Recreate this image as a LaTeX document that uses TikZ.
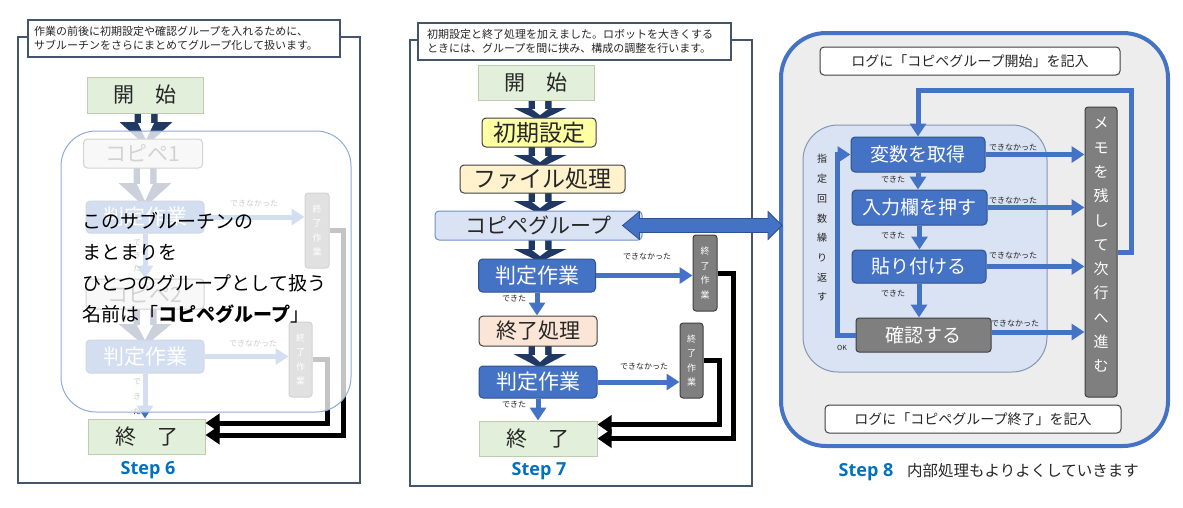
\documentclass[tikz,border=0pt]{standalone}
\usepackage{fontspec}
\setmainfont{Noto Sans CJK JP}
\newfontfamily\stepfont{Open Sans}
\usetikzlibrary{calc,arrows.meta}

\definecolor{frameC}{HTML}{44546A}
\definecolor{inkC}{HTML}{262626}
\definecolor{navyC}{HTML}{1F3864}
\definecolor{blueC}{HTML}{4472C4}
\definecolor{blueD}{HTML}{2F528F}
\definecolor{grayF}{HTML}{7F7F7F}
\definecolor{grayD}{HTML}{404040}
\definecolor{startF}{HTML}{E2EFDA}
\definecolor{startD}{HTML}{BFCCB0}
\definecolor{initF}{HTML}{FFFFA3}
\definecolor{fileF}{HTML}{FFF2CC}
\definecolor{procF}{HTML}{FBE5D6}
\definecolor{copyF}{HTML}{DAE3F3}
\definecolor{copyD}{HTML}{6F8FC7}
\definecolor{groupD}{HTML}{8FAADC}
\definecolor{panelF}{HTML}{EDEDED}
\definecolor{innerD}{HTML}{8497B0}
\definecolor{stepC}{HTML}{0070C0}

\newcommand\jpbox{\fontsize{21}{24}\selectfont}
\newcommand\jpmid{\fontsize{19}{22}\selectfont}
\newcommand\jpcap{\fontsize{11}{14.5}\selectfont}
\newcommand\jplog{\fontsize{14}{16}\selectfont}
\newcommand\jptiny{\fontsize{8}{9}\selectfont}
\newcommand\jpover{\fontsize{19}{31}\selectfont}
\newcommand\steplbl{\stepfont\fontsize{18}{20}\selectfont\bfseries}
\def\hollowarrow[#1](#2)(#3:#4:#5){%
	\fill[#1] (#2-11.5,#3) -- (#2+11.5,#3) -- (#2+11.5,#4) -- (#2+26.5,#4) -- (#2,#5) -- (#2-26.5,#4) -- (#2-11.5,#4) -- cycle;
	\fill[white] (#2-5,#3) -- (#2+5,#3) -- (#2+5,#4+1) -- (#2+8,#4+1) -- (#2,#5-6) -- (#2-8,#4+1) -- (#2-5,#4+1) -- cycle;}

\tikzset{
	dims/.style 2 args={minimum width=#1pt, minimum height=#2pt},
	startnode/.style={draw=startD, fill=startF, line width=1pt, inner sep=0pt, text=inkC, font=\jpbox},
	tasknode/.style={draw=grayD, rounded corners=4pt, line width=1pt, inner sep=0pt, text=inkC, font=\jpbox},
	bluenode/.style={draw=blueD, fill=blueC, rounded corners=4pt, line width=1pt, inner sep=0pt, text=white, font=\jpbox},
	endnode/.style={draw=grayD, fill=grayF, rounded corners=3pt, line width=1pt, inner sep=0pt, text=white, align=center, font=\fontsize{9}{14.5}\selectfont},
	capnode/.style={draw=frameC, fill=white, line width=1.5pt, inner sep=0pt, align=left, text=inkC, font=\jpcap},
	lognode/.style={draw=grayD, fill=white, rounded corners=4pt, line width=1pt, inner sep=0pt, text=inkC, font=\jplog},
	lbl/.style={inner sep=0pt, text=inkC, font=\jptiny},
	hollow/.style={fill=navyC},
	flow/.style={draw=blueC, line width=5pt, -{Triangle[length=13pt,width=16pt]}},
	ret/.style={draw=black, line width=5pt, -{Triangle[length=14pt,width=18pt]}},
	twin/.style={draw=blueD, fill=blueC, line width=0.8pt}
}

\begin{document}
\begin{tikzpicture}[x=1pt, y=-1pt]
		\useasboundingbox (0,0) rectangle (1183,507);
		
		%%%%% STEP 6 %%%%%
		
		\draw[frameC, line width=1.5pt] (18,37) rectangle (360,483);
		\node[capnode, dims={312}{37}, text width=300pt] (cap6) at (184,38.5) {作業の前後に初期設定や確認グループを入れるために、\\サブルーチンをさらにまとめてグループ化して扱います。};
		
		\hollowarrow[hollow](146)(108:122:146);
		\hollowarrow[hollow](145)(166:183:207);
		\hollowarrow[hollow](145)(307:324:346);
		
		\node[startnode, dims={116}{36}] (start6) at (145,95) {開　始};
		\node[tasknode, fill=black!10, text=grayD, dims={119}{29}] (copy6a) at (143,153.5) {コピペ1};
		\node[bluenode, dims={118}{32}] (judge6a) at (145,217) {判定作業};
		\node[endnode, dims={24}{75}] (end6a) at (317,230.5) {終\\了\\作\\業};
		\node[tasknode, fill=black!10, text=grayD, dims={118}{30}] (copy6b) at (145,294) {コピペ2};
		\node[bluenode, dims={118}{33}] (judge6b) at (145,356.5) {判定作業};
		\node[endnode, dims={23}{75}] (end6b) at (300.5,359.5) {終\\了\\作\\業};
		\node[startnode, dims={117}{35}] (end6) at (146.5,436.5) {終　了};
		
		\draw[flow] (judge6a.east) -- (judge6a.east -| end6a.west);
		\draw[flow] (judge6a.south) -- (judge6a.south |- copy6b.north);
		\draw[flow] (judge6b.east) -- (judge6b.east -| end6b.west);
		\draw[flow] (judge6b.south) -- (judge6b.south |- end6.north);
		\node[lbl] (no6a) at (254,203) {できなかった};
		\node[lbl] (no6b) at (253,343) {できなかった};
		\node[lbl, align=center, font=\fontsize{8}{13}\selectfont] (ok6a) at (137,256) {で\\き\\た};
		\node[lbl, align=center, font=\fontsize{8}{15}\selectfont] (ok6b) at (137,397) {で\\き\\た};
		
		\draw[ret] (end6a.east) -- ++(14,0) |- ($(end6.east)+(0,-1.5)$);
		\draw[ret] (end6b.east) -- ++(15,0) |- ($(end6.east)+(0,-13.5)$);
		
		% the sub-routine group, drawn over what it holds
		\draw[draw=groupD, fill=white, fill opacity=0.77, line width=1pt, rounded corners=35pt] (61,131) rectangle (351,412);
		\node[anchor=west, align=left, inner sep=0pt, text=black, font=\jpover] (note6) at (82,268) {このサブルーチンの\\まとまりを\\ひとつのグループとして扱う\\名前は「{\bfseries コピペグループ}」};
		
		\node[anchor=base, text=stepC, font=\steplbl] (step6) at (148,474) {Step 6};
		
		%%%%% STEP 7 %%%%%
		
		\draw[frameC, line width=1.5pt] (410,40) rectangle (752,486);
		\node[capnode, dims={313}{37}, text width=295pt] (cap7) at (574.5,41.5) {初期設定と終了処理を加えました。ロボットを大きくする\\ときには、グループを間に挟み、構成の調整を行います。};
		
		\hollowarrow[hollow](540)(98:108:121);
		\hollowarrow[hollow](540)(145:155:168);
		\hollowarrow[hollow](540)(191:201:214);
		\hollowarrow[hollow](540)(238:249:262);
		\hollowarrow[hollow](540)(344:354:368);
		
		\node[startnode, dims={116}{35}] (start7) at (536,82.5) {開　始};
		\node[tasknode, fill=initF, dims={114}{29}, font=\fontsize{23}{25}\selectfont] (init7) at (539,132.5) {初期設定};
		\node[tasknode, fill=fileF, dims={165}{28}, font=\fontsize{23}{25}\selectfont] (file7) at (542.5,179) {ファイル処理};
		\node[tasknode, draw=copyD, fill=copyF, dims={207}{29}] (copy7) at (538.5,225.5) {コピペグループ};
		\node[bluenode, dims={117}{33}] (judge7a) at (537,275.5) {判定作業};
		\node[endnode, dims={24}{76}] (end7a) at (705,273) {終\\了\\作\\業};
		\node[tasknode, fill=procF, dims={118}{30}] (proc7) at (538,331) {終了処理};
		\node[bluenode, dims={118}{32}] (judge7b) at (538,382) {判定作業};
		\node[endnode, dims={23}{75}] (end7b) at (691.5,360.5) {終\\了\\作\\業};
		\node[startnode, dims={118}{35}] (end7) at (538,438.5) {終　了};
		
		\draw[flow] (judge7a.east) -- (judge7a.east -| end7a.west);
		\draw[flow] (judge7a.south) -- (judge7a.south |- proc7.north);
		\draw[flow] (judge7b.east) -- (judge7b.east -| end7b.west);
		\draw[flow] (judge7b.south) -- (judge7b.south |- end7.north);
		\node[lbl] (no7a) at (647,256) {できなかった};
		\node[lbl] (no7b) at (644,366) {できなかった};
		\node[lbl] (ok7a) at (514,298) {できた};
		\node[lbl] (ok7b) at (514,404) {できた};
		
		\draw[ret] (end7a.east) -- ++(16,0) |- (end7.east);
		\draw[ret] (end7b.east) -- ++(16,0) |- ($(end7.east)+(0,-14)$);
		
		\node[anchor=base, text=stepC, font=\steplbl] (step7) at (539,475) {Step 7};
		
		%%%%% STEP 8 %%%%%
		
		\node[draw=blueC, fill=panelF, line width=4pt, rounded corners=45pt, dims={387}{413}] (panel8) at (974.5,239.5) {};
		\node[lognode, dims={300}{28}] (log8a) at (970,61) {ログに「コピペグループ開始」を記入};
		\node[lognode, dims={296}{28}] (log8b) at (973,419) {ログに「コピペグループ終了」を記入};
		\node[draw=innerD, fill=copyF, line width=1pt, rounded corners=35pt, dims={244}{247}] (loop8) at (925,248.5) {};
		
		\node[bluenode, font=\jpmid, dims={134}{35}] (var8) at (918,154.5) {変数を取得};
		\node[bluenode, font=\jpmid, dims={135}{35}] (inp8) at (919.5,207.5) {入力欄を押す};
		\node[bluenode, font=\jpmid, dims={134}{33}] (paste8) at (919,266.5) {貼り付ける};
		\node[endnode, font=\jpmid, dims={135}{34}] (conf8) at (923.5,335) {確認する};
		\node[endnode, dims={32}{290}] (memo8) at (1101,252) {};
		\node[inner sep=0pt, align=center, text=white, font=\fontsize{15}{24.3}\selectfont] (memo8t) at (1101,245) {メ\\モ\\を\\残\\し\\て\\次\\行\\へ\\進\\む};
		\node[inner sep=0pt, align=center, text=inkC, font=\fontsize{10}{19.7}\selectfont] (rep8) at (822,228) {指\\定\\回\\数\\繰\\り\\返\\す};
		
		\coordinate (conf8o) at ($(conf8.east)+(0,-3)$);
		\draw[flow] (var8.south) -- (var8.south |- inp8.north);
		\draw[flow] (inp8.south) -- (inp8.south |- paste8.north);
		\draw[flow] (paste8.south) -- (paste8.south |- conf8.north);
		\draw[flow] (var8.east) -- (var8.east -| memo8.west);
		\draw[flow] (inp8.east) -- (inp8.east -| memo8.west);
		\draw[flow] (paste8.east) -- (paste8.east -| memo8.west);
		\draw[flow] (conf8o) -- (conf8o -| memo8.west);
		\draw[flow] (memo8.east) -- ++(14,0) |- ($(var8.north)+(0,-46)$) -- (var8.north);
		\draw[flow] (conf8.west) -- ++(-18,0) |- (var8.west);
		
		\node[lbl] (no8a) at (1013,147) {できなかった};
		\node[lbl] (no8b) at (1013,200) {できなかった};
		\node[lbl] (no8c) at (1013,255) {できなかった};
		\node[lbl] (no8d) at (1015,323) {できなかった};
		\node[lbl] (ok8a) at (893,179) {できた};
		\node[lbl] (ok8b) at (893,235) {できた};
		\node[lbl] (ok8c) at (893,293) {できた};
		\node[lbl, font=\fontsize{7}{8}\selectfont] (ok8d) at (842,348) {OK};
		
		% block arrow between the group and its inside
		\coordinate (twinL) at ($(copy7.east)+(-20,0)$);
		\coordinate (twinR) at ($(panel8.west |- copy7.east)+(3,0)$);
		\draw[twin] (twinL) -- ++(17,-14) -- ++(0,7) -- ($(twinR)+(-14,-7)$) -- ++(0,-7) -- (twinR) -- ++(-14,14) -- ++(0,-7) -- ($(twinL)+(17,7)$) -- ++(0,7) -- cycle;
		
		\node[anchor=base, text=stepC, font=\steplbl] (step8) at (866,476) {Step 8};
		\node[anchor=base west, inner sep=0pt, text=inkC, font=\fontsize{15.5}{17}\selectfont] (step8t) at (907,476) {内部処理もよりよくしていきます};
		
		%%%%% END %%%%%
\end{tikzpicture}
\end{document}
